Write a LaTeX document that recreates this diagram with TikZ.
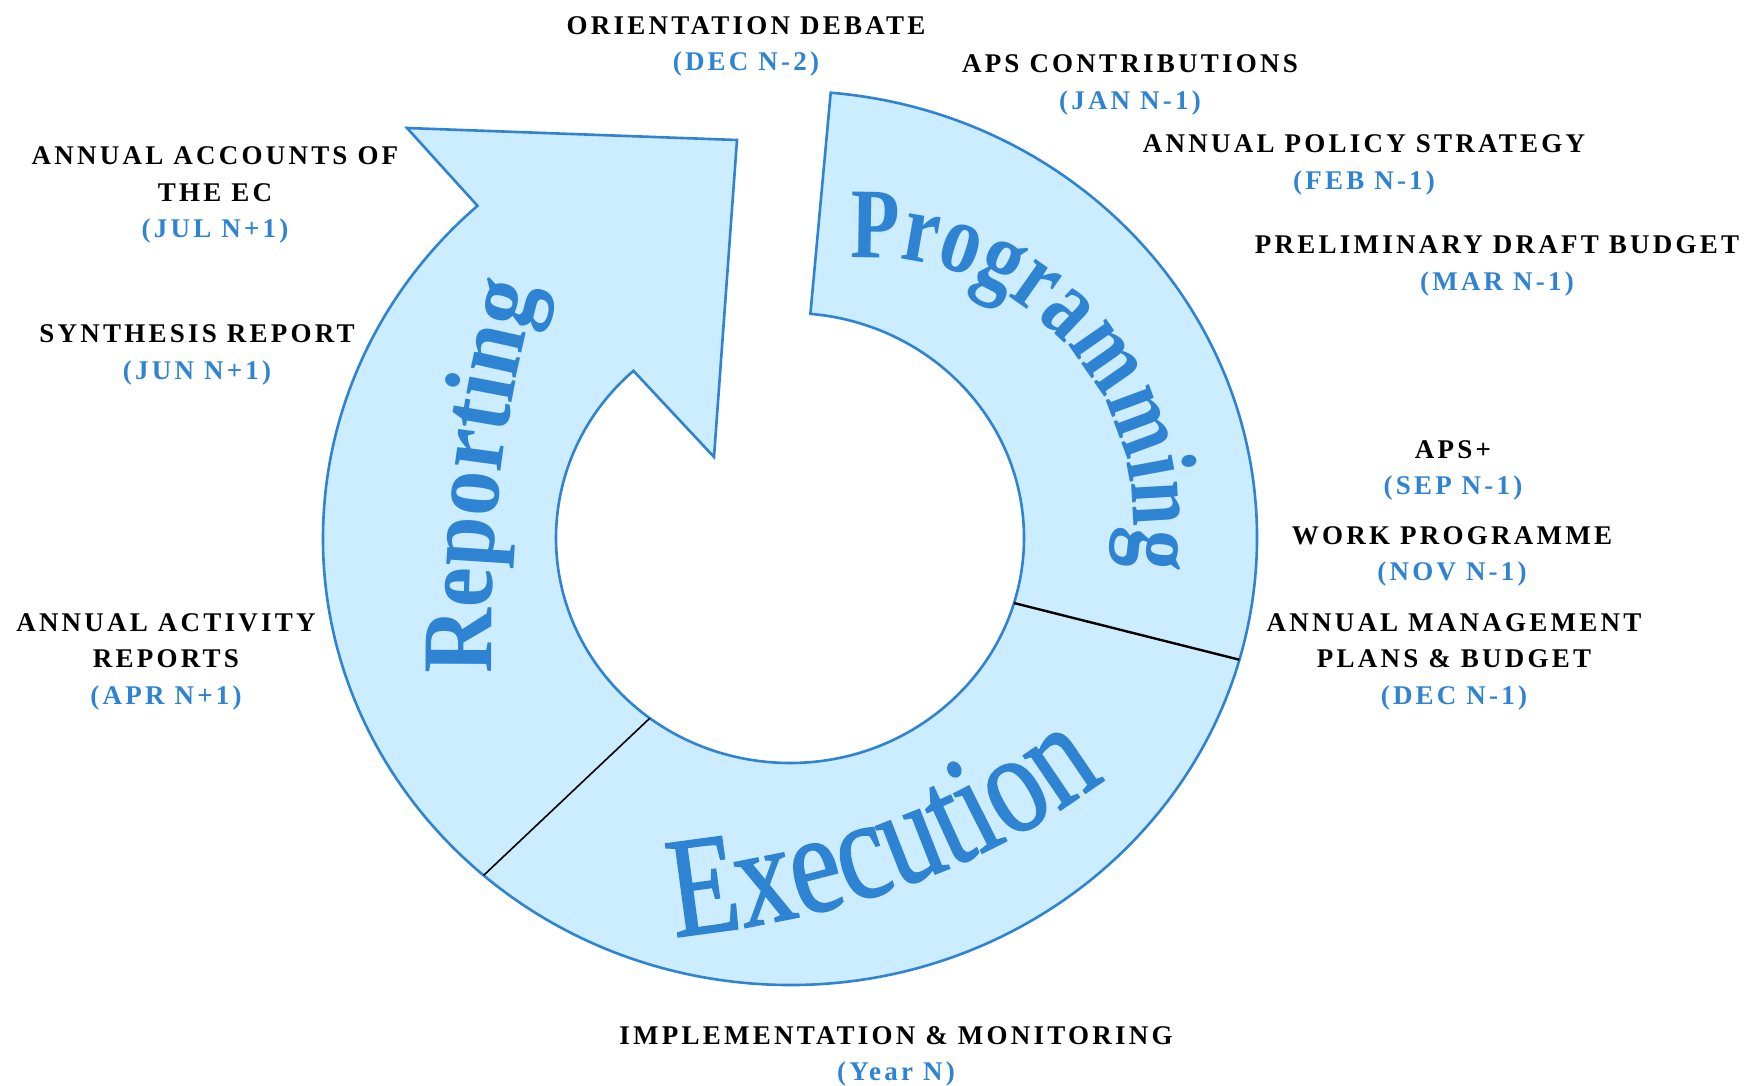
\documentclass[tikz,border=0pt]{standalone}
\usepackage{fontspec}
\setmainfont{Liberation Serif}
\newfontfamily\lblfont[LetterSpace=12]{Liberation Serif}
\newfontfamily\progfont[FakeStretch=0.8]{Liberation Serif}
\newfontfamily\repfont[FakeStretch=0.9]{Liberation Serif}
\newfontfamily\execfont[FakeStretch=0.8,FakeBold=1.2]{Liberation Serif}
\usetikzlibrary{decorations.text}
\definecolor{ringfill}{RGB}{204,236,255}
\definecolor{ringblue}{RGB}{46,131,211}
\begin{document}
\begin{tikzpicture}[x=1pt,y=1pt,
  lbl/.style={align=center, font=\lblfont\bfseries\fontsize{27}{36.5}\selectfont, inner sep=0pt},
  ringshape/.style={fill=ringfill, draw=ringblue, line width=2.6pt, line join=miter},
  divider/.style={draw=black, line width=2.4pt},
  thindivider/.style={draw=black, line width=1.6pt}]
\useasboundingbox[fill=white] (0,0) rectangle (1757,-1085);

\coordinate (c) at (790,-538);
\coordinate (barbA) at (407,-128);
\coordinate (tip) at (737,-140);
\coordinate (barbB) at (714,-457);

% ring with arrow head
\path[ringshape] ([shift={(85:467 and 447)}]c)
   arc[start angle=85, end angle=-228, x radius=467, y radius=447]
   -- (barbA) -- (tip) -- (barbB)
   -- ([shift={(-228:234 and 225)}]c)
   arc[start angle=-228, end angle=85, x radius=234, y radius=225] -- cycle;

% dividers
\coordinate (d1i) at ([shift={(-16.8:234 and 225)}]c);
\coordinate (d1o) at ([shift={(-15.8:467 and 447)}]c);
\coordinate (d2i) at ([shift={(-126.8:234 and 225)}]c);
\coordinate (d2o) at ([shift={(-131:467 and 447)}]c);
\draw[divider] (d1i) -- (d1o);
\draw[thindivider] (d2i) -- (d2o);

% curved titles
\coordinate (pc) at (871,-520);
\path[decorate, decoration={text along path, text align=center, text color=ringblue,
   text={|\progfont\bfseries\fontsize{100}{105}\selectfont|Programming}}]
   ([shift={(122.1:262)}]pc) arc[start angle=122.1, end angle=-37.9, radius=262];

\path[decorate, decoration={text along path, text align=center, text color=ringblue,
   text={|\execfont\fontsize{143}{150}\selectfont|Execution}}]
   (636,-940) .. controls (825,-927) and (995,-870) .. (1136,-755);

\path[decorate, decoration={text along path, text align=center, text color=ringblue,
   text={|\repfont\bfseries\fontsize{100}{105}\selectfont|Reporting}}]
   (492,-708) .. controls (488,-540) and (500,-410) .. (548,-255);

% labels
\node[lbl] (orient) at (746,-46.5) {ORIENTATION DEBATE\\\textcolor{ringblue}{(DEC N-2)}};
\node[lbl] (apsc) at (1130,-85) {APS CONTRIBUTIONS\\\textcolor{ringblue}{(JAN N-1)}};
\node[lbl] (aps) at (1364,-165) {ANNUAL POLICY STRATEGY\\\textcolor{ringblue}{(FEB N-1)}};
\node[lbl] (pdb) at (1497,-266) {PRELIMINARY DRAFT BUDGET\\\textcolor{ringblue}{(MAR N-1)}};
\node[lbl] (apsplus) at (1453,-470.5) {APS+\\\textcolor{ringblue}{(SEP N-1)}};
\node[lbl] (wp) at (1452,-556.5) {WORK PROGRAMME\\\textcolor{ringblue}{(NOV N-1)}};
\node[lbl] (amp) at (1454,-661.5) {ANNUAL MANAGEMENT\\PLANS \& BUDGET\\\textcolor{ringblue}{(DEC N-1)}};
\node[lbl] (impl) at (896,-1056.5) {IMPLEMENTATION \& MONITORING\\\textcolor{ringblue}{(Year N)}};
\node[lbl] (aar) at (166,-661.5) {ANNUAL ACTIVITY\\REPORTS\\\textcolor{ringblue}{(APR N+1)}};
\node[lbl] (synth) at (197,-355) {SYNTHESIS REPORT\\\textcolor{ringblue}{(JUN N+1)}};
\node[lbl] (acc) at (215,-195) {ANNUAL ACCOUNTS OF\\THE EC\\\textcolor{ringblue}{(JUL N+1)}};
\end{tikzpicture}
\end{document}
